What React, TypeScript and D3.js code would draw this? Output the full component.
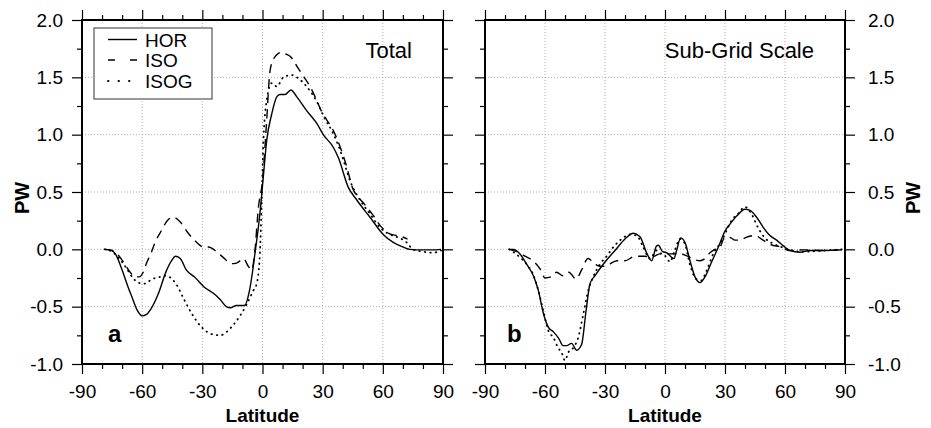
import React, { useRef, useEffect } from "react";
import * as d3 from "d3";

// tick labels
const latTicks = [-90, -60, -30, 0, 30, 60, 90];
const pwTicks = [-1.0, -0.5, 0.0, 0.5, 1.0, 1.5, 2.0];
const seriesNames = ["HOR", "ISO", "ISOG"];

// panel a: Total
const totalHorLat = [-78.7, -76, -73, -70, -67, -65, -62.5, -60, -58, -56, -52, -48, -45, -43.5, -41, -38, -34, -29, -24, -21, -18, -16, -13, -9, -6.5, -5, -3.8, -2.5, -1.3, 0.4, 2.1, 4.6, 7.1, 8.7, 11.2, 14.2, 17.1, 22, 27, 30.3, 35.3, 37.8, 42.8, 47, 53.6, 60.2, 65.2, 70.2, 73.5, 80, 85, 89];
const totalHorPw = [0, -0.005, -0.05, -0.18, -0.33, -0.42, -0.53, -0.58, -0.57, -0.53, -0.39, -0.19, -0.09, -0.06, -0.08, -0.18, -0.24, -0.33, -0.39, -0.44, -0.5, -0.51, -0.49, -0.49, -0.36, -0.2, -0.04, 0.13, 0.31, 0.63, 0.95, 1.18, 1.33, 1.35, 1.35, 1.39, 1.33, 1.21, 1.1, 1.0, 0.89, 0.8, 0.54, 0.43, 0.28, 0.13, 0.06, 0.02, 0, -0.005, -0.005, 0];

const totalIsoLat = [-78.7, -75, -72, -69, -66, -63.5, -61.5, -59.5, -57.8, -55.5, -53.6, -50.5, -47.5, -44.5, -41.1, -37, -32.8, -29.5, -27, -22.9, -19.6, -15.4, -13, -11.2, -9.6, -7, -5.4, -4, -2, 0, 2, 3.7, 5.5, 8, 9.7, 12, 14, 17.4, 20, 23.7, 26.5, 29.5, 32, 34.6, 39, 42, 45, 48, 51, 55, 59, 63, 67, 69.5, 72.3];
const totalIsoPw = [0, -0.01, -0.05, -0.12, -0.2, -0.24, -0.24, -0.2, -0.12, -0.03, 0.06, 0.16, 0.25, 0.28, 0.24, 0.14, 0.06, 0.02, 0.02, -0.02, -0.07, -0.125, -0.12, -0.1, -0.08, -0.15, -0.18, -0.05, 0.37, 0.6, 1.1, 1.55, 1.66, 1.71, 1.72, 1.7, 1.68, 1.59, 1.52, 1.42, 1.32, 1.2, 1.13, 1.06, 0.88, 0.72, 0.53, 0.45, 0.39, 0.3, 0.2, 0.14, 0.12, 0.11, 0.09];

const totalIsogLat = [-78.7, -75, -72, -68, -65, -62, -59, -55, -51, -48, -46.5, -42.8, -39.6, -35.3, -30.3, -25.3, -21.2, -17.9, -14.6, -11.2, -7.9, -4.6, -2.9, -1.3, -0.4, 0.4, 2.1, 4.6, 7.1, 10.4, 14.6, 17.9, 22, 27, 31.1, 35.3, 39.4, 43.6, 48.6, 53.6, 58.6, 63.5, 69.4, 71.9, 75, 80, 85, 89];
const totalIsogPw = [0, -0.02, -0.07, -0.16, -0.24, -0.29, -0.3, -0.26, -0.24, -0.23, -0.24, -0.31, -0.42, -0.56, -0.68, -0.74, -0.75, -0.72, -0.66, -0.58, -0.48, -0.36, -0.3, -0.04, 0.43, 0.92, 1.3, 1.45, 1.42, 1.5, 1.52, 1.49, 1.42, 1.29, 1.14, 1.01, 0.83, 0.6, 0.43, 0.31, 0.19, 0.13, 0.09, 0.06, 0.0, -0.02, -0.03, -0.01];

// panel b: Sub-Grid Scale
const sgsHorLat = [-78, -75.8, -72.5, -69.2, -65.8, -63.3, -60.8, -58.3, -55.8, -53, -51, -49.2, -46.7, -44.2, -41.7, -39.5, -37.5, -35, -30, -25, -20, -15.8, -12.5, -9.2, -6.7, -4.2, -3.3, -1.2, 1, 3.3, 4.5, 5.8, 7.8, 10, 12.5, 15, 17.5, 20, 23.3, 26.7, 30, 32.5, 35.8, 40, 42.5, 45.8, 49.2, 52.5, 55.8, 59.2, 62.5, 67.5, 72.5, 80, 88.5];
const sgsHorPw = [0, 0, -0.04, -0.13, -0.23, -0.36, -0.56, -0.68, -0.72, -0.78, -0.84, -0.84, -0.82, -0.88, -0.83, -0.54, -0.3, -0.23, -0.11, -0.01, 0.09, 0.14, 0.11, -0.03, -0.1, 0.03, 0.035, -0.02, -0.03, -0.07, -0.08, -0.01, 0.1, 0.06, -0.1, -0.24, -0.29, -0.24, -0.11, 0.02, 0.16, 0.22, 0.29, 0.35, 0.34, 0.28, 0.19, 0.12, 0.08, 0.03, -0.01, -0.025, -0.01, -0.01, -0.005];

const sgsIsoLat = [-78, -74, -70, -66, -62.5, -60, -57, -54.2, -51, -48, -46.7, -44.5, -41.7, -38.5, -35, -32, -29, -24, -20, -15, -10, -7, -2.5, 2.5, 6.7, 10, 12.5, 17.5, 20, 22.5, 25, 27.5, 30, 33, 35, 38, 40, 45, 49, 53, 58, 62, 70, 80, 89];
const sgsIsoPw = [0, -0.02, -0.06, -0.1, -0.17, -0.25, -0.24, -0.2, -0.23, -0.2, -0.22, -0.26, -0.18, -0.08, -0.13, -0.15, -0.14, -0.1, -0.1, -0.06, -0.06, -0.07, -0.04, -0.04, -0.04, -0.05, -0.07, -0.1, -0.08, -0.03, 0.0, 0.02, 0.11, 0.1, 0.08, 0.08, 0.1, 0.12, 0.08, 0.04, 0.02, -0.01, -0.005, -0.01, 0];

const sgsIsogLat = [-78, -72.5, -69.2, -65.9, -63.3, -60.8, -58.3, -55.8, -53.4, -51.7, -50, -48.4, -45.9, -43.4, -40.9, -38.4, -35.9, -32.5, -29.2, -25.8, -21.7, -17.5, -14.2, -10.9, -7.6, -4.2, -2.6, 0.8, 2.4, 4.9, 7.4, 9.9, 12.4, 15.7, 18.2, 20.7, 24.1, 27.4, 30.7, 33.2, 36.5, 39.9, 43.2, 46.5, 49.9, 54, 58.2, 62.4, 69, 80, 89];
const sgsIsogPw = [0, -0.07, -0.13, -0.22, -0.36, -0.54, -0.71, -0.77, -0.86, -0.9, -0.97, -0.9, -0.86, -0.77, -0.57, -0.36, -0.24, -0.13, -0.06, 0.02, 0.09, 0.13, 0.12, 0.02, -0.08, -0.01, -0.03, -0.07, -0.11, -0.01, 0.09, 0.05, -0.13, -0.26, -0.27, -0.19, -0.04, 0.05, 0.16, 0.25, 0.31, 0.37, 0.31, 0.19, 0.1, 0.05, 0.02, -0.005, -0.02, -0.01, 0];

const zip = (a: number[], b: number[]) => a.map((v, i) => [v, b[i]] as [number, number]);

const FONT = "'Liberation Sans', Arial, Helvetica, sans-serif";
const dashes = ["none", "9,6", "0.5,5"];
const legendDashes = ["none", "7,15", "0.5,10"];

const width = 931;
const height = 428;
const top = 20;
const bottom = 364;

const App = () => {
    const svgRef = useRef<SVGSVGElement>(null);

    useEffect(() => {
        const svg = d3.select(svgRef.current);
        svg.selectAll("*").remove();
        svg.append("rect").attr("width", width).attr("height", height).attr("fill", "#fff");

        const y = d3.scaleLinear().domain([-1, 2]).range([bottom, top]);
        const latMinor = d3.range(-90, 91, 10).filter((d) => d % 30 !== 0);
        const pwMinor = d3.range(-0.75, 2, 0.5);

        const panels = [
            { x0: 82, x1: 443, side: "left", title: "Total", tag: "a", tagX: 108, data: [zip(totalHorLat, totalHorPw), zip(totalIsoLat, totalIsoPw), zip(totalIsogLat, totalIsogPw)] },
            { x0: 485, x1: 845, side: "right", title: "Sub-Grid Scale", tag: "b", tagX: 507, data: [zip(sgsHorLat, sgsHorPw), zip(sgsIsoLat, sgsIsoPw), zip(sgsIsogLat, sgsIsogPw)] }
        ];

        panels.forEach((p) => {
            const x = d3.scaleLinear().domain([-90, 90]).range([p.x0, p.x1]);
            const g = svg.append("g");

            // dotted grid
            g.selectAll(".vgrid").data(latTicks.slice(1, -1)).enter().append("line")
                .attr("x1", (d) => x(d)).attr("x2", (d) => x(d)).attr("y1", top).attr("y2", bottom)
                .attr("stroke", "#999").attr("stroke-width", 0.8).attr("stroke-dasharray", "1,2");
            g.selectAll(".hgrid").data(pwTicks.slice(1, -1)).enter().append("line")
                .attr("x1", p.x0).attr("x2", p.x1).attr("y1", (d) => y(d)).attr("y2", (d) => y(d))
                .attr("stroke", "#999").attr("stroke-width", 0.8).attr("stroke-dasharray", "1,2");

            const myLine = d3.line<[number, number]>()
                .x((d) => x(d[0]))
                .y((d) => y(d[1]))
                .curve(d3.curveMonotoneX);

            g.selectAll(".series").data(p.data).enter().append("path")
                .attr("d", (d) => myLine(d))
                .attr("fill", "none")
                .attr("stroke", "#000")
                .attr("stroke-width", (d, i) => (i === 2 ? 1.8 : 1.4))
                .attr("stroke-linecap", (d, i) => (i === 2 ? "round" : "butt"))
                .attr("stroke-dasharray", (d, i) => dashes[i]);

            // frame
            g.append("rect").attr("x", p.x0).attr("y", top).attr("width", p.x1 - p.x0).attr("height", bottom - top)
                .attr("fill", "none").attr("stroke", "#000").attr("stroke-width", 2);

            const fmtLat = (d: any) => String(d);
            const fmtPw = (d: any) => (+d).toFixed(1);
            const none = () => "";
            const axes = [
                { ax: d3.axisBottom(x).tickValues(latTicks).tickSize(10).tickPadding(11).tickFormat(fmtLat), t: `translate(0,${bottom})` },
                { ax: d3.axisBottom(x).tickValues(latMinor).tickSize(5).tickFormat(none), t: `translate(0,${bottom})` },
                { ax: d3.axisTop(x).tickValues(latTicks).tickSize(10).tickFormat(none), t: `translate(0,${top})` },
                { ax: d3.axisTop(x).tickValues(latMinor).tickSize(5).tickFormat(none), t: `translate(0,${top})` },
                { ax: d3.axisLeft(y).tickValues(pwTicks).tickSize(10).tickPadding(9).tickFormat(p.side === "left" ? fmtPw : none), t: `translate(${p.x0},0)` },
                { ax: d3.axisLeft(y).tickValues(pwMinor).tickSize(5).tickFormat(none), t: `translate(${p.x0},0)` },
                { ax: d3.axisRight(y).tickValues(pwTicks).tickSize(10).tickPadding(13).tickFormat(p.side === "right" ? fmtPw : none), t: `translate(${p.x1},0)` },
                { ax: d3.axisRight(y).tickValues(pwMinor).tickSize(5).tickFormat(none), t: `translate(${p.x1},0)` }
            ];
            axes.forEach((a) => {
                const ag = g.append("g").attr("transform", a.t).call(a.ax as any);
                ag.select(".domain").remove();
                ag.selectAll("line").attr("stroke", "#000").attr("stroke-width", 1.2);
                ag.selectAll("text").attr("fill", "#000").style("font-family", FONT).style("font-size", "19px");
            });

            // titles and labels
            g.append("text").attr("x", p.x1 - 31).attr("y", 58).attr("text-anchor", "end")
                .style("font-family", FONT).style("font-size", "22px").text(p.title);
            g.append("text").attr("x", p.tagX).attr("y", 342)
                .style("font-family", FONT).style("font-size", "24px").style("font-weight", "bold").text(p.tag);
            g.append("text").attr("x", (p.x0 + p.x1) / 2).attr("y", 422).attr("text-anchor", "middle")
                .style("font-family", FONT).style("font-size", "19px").style("font-weight", "bold").text("Latitude");
            const pwX = p.side === "left" ? 28.5 : 920;
            g.append("text").attr("transform", `translate(${pwX},198) rotate(-90)`).attr("text-anchor", "middle")
                .style("font-family", FONT).style("font-size", "20px").style("font-weight", "bold").text("PW");

            // legend in panel a
            if (p.side === "left") {
                const lg = g.append("g");
                lg.append("rect").attr("x", 94).attr("y", 28).attr("width", 118).attr("height", 71)
                    .attr("fill", "#fff").attr("stroke", "#333").attr("stroke-width", 1);
                const rowY = [39.5, 60, 81];
                seriesNames.forEach((name, i) => {
                    lg.append("line").attr("x1", 108).attr("x2", 137).attr("y1", rowY[i]).attr("y2", rowY[i])
                        .attr("stroke", "#000").attr("stroke-width", i === 2 ? 1.8 : 1.4)
                        .attr("stroke-linecap", i === 2 ? "round" : "butt")
                        .attr("stroke-dasharray", legendDashes[i]);
                    lg.append("text").attr("x", 145).attr("y", rowY[i] + 7)
                        .style("font-family", FONT).style("font-size", "19px").text(name);
                });
            }
        });
    }, []);

    return (
        <div style={{ position: "absolute", left: 0, top: 0 }}>
            <svg ref={svgRef} width={width} height={height} style={{ display: "block" }}></svg>
        </div>
    );
};

export default App;
